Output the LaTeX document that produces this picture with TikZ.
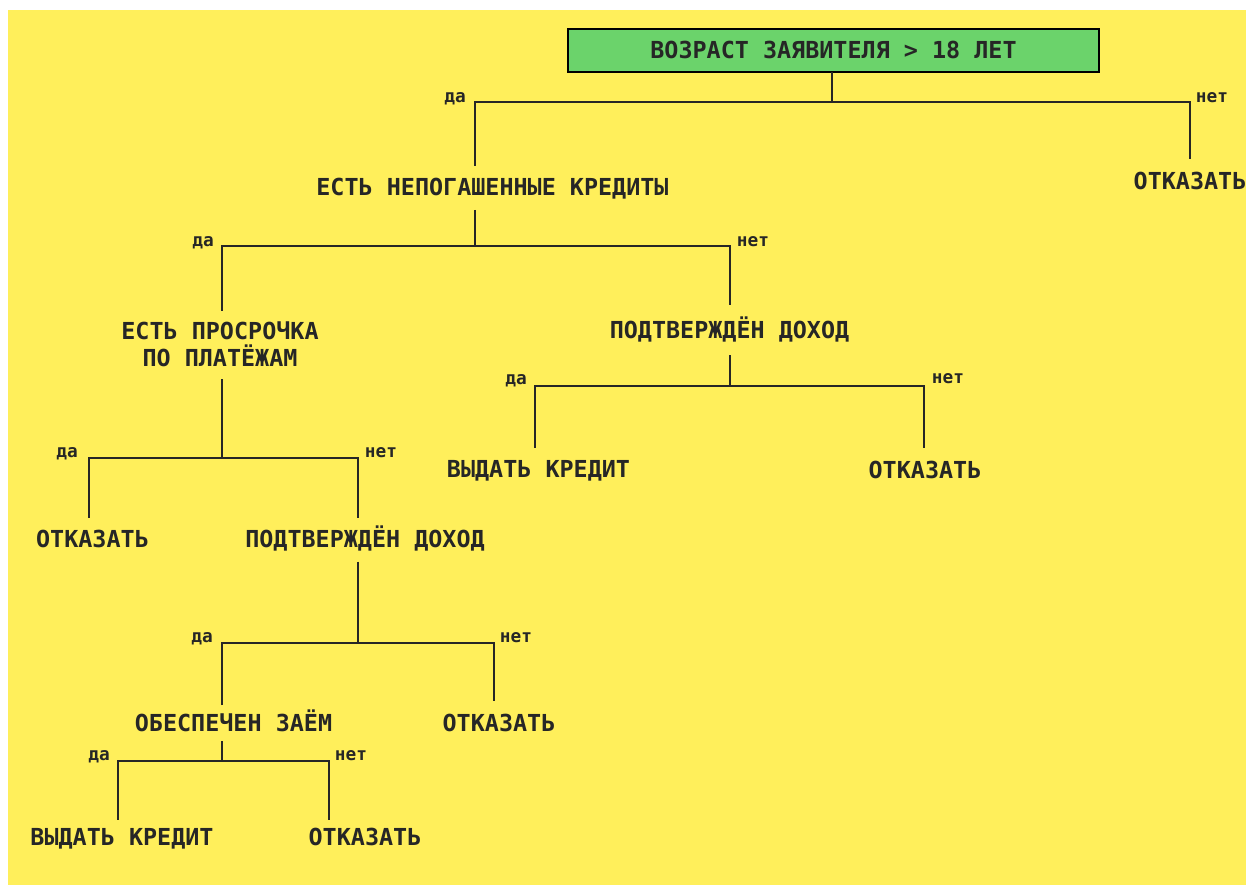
\documentclass[tikz,border=0pt]{standalone}
\usepackage{fontspec}
\setmonofont{DejaVu Sans Mono}

\definecolor{fondo}{HTML}{FFEF5B}
\definecolor{verde}{HTML}{6BD36B}
\definecolor{lineas}{HTML}{262626}

\tikzset{
  texto/.style={font=\ttfamily\bfseries\fontsize{23.4}{26.5}\selectfont, text=lineas,
    inner sep=0pt, outer ysep=14pt, text height=16pt, text depth=0pt, align=center},
  raiz/.style={texto, draw=black, line width=1.6pt, fill=verde, outer sep=0pt,
    minimum width=531pt, minimum height=43pt},
  rama/.style={font=\ttfamily\bfseries\fontsize{17.8}{20}\selectfont, text=lineas,
    inner sep=0pt, text height=10pt, text depth=0pt},
  linea/.style={draw=lineas, line width=2pt}
}

\begin{document}
\begin{tikzpicture}[x=1pt, y=-1pt]
		% Fondo
		\useasboundingbox (0,0) rectangle (1246,885);
		\fill[white] (0,0) rectangle (1246,885);
		\fill[fondo] (8,10) rectangle (1246,885);
		
		% Nodos
		\node[raiz] (n0) at (833.5,50.5) {ВОЗРАСТ ЗАЯВИТЕЛЯ > 18 ЛЕТ};
		\node[texto] (n1) at (492.5,188) {ЕСТЬ НЕПОГАШЕННЫЕ КРЕДИТЫ};
		\node[texto] (r1) at (1190,181.5) {ОТКАЗАТЬ};
		\node[texto, outer ysep=13pt, text height=42.5pt] (n2) at (220,344.75) {ЕСТЬ ПРОСРОЧКА\\ПО ПЛАТЁЖАМ};
		\node[texto, outer ysep=17pt] (n3) at (729.5,330) {ПОДТВЕРЖДЁН ДОХОД};
		\node[texto] (n4) at (538.5,469.5) {ВЫДАТЬ КРЕДИТ};
		\node[texto] (n5) at (925,470) {ОТКАЗАТЬ};
		\node[texto] (n6) at (92.5,539.5) {ОТКАЗАТЬ};
		\node[texto] (n7) at (365,539.5) {ПОДТВЕРЖДЁН ДОХОД};
		\node[texto, outer ysep=10pt] (n8) at (233.5,723) {ОБЕСПЕЧЕН ЗАЁМ};
		\node[texto] (n9) at (499,723) {ОТКАЗАТЬ};
		\node[texto, outer ysep=10pt] (n10) at (122,837.5) {ВЫДАТЬ КРЕДИТ};
		\node[texto, outer ysep=10pt] (n11) at (365,837.5) {ОТКАЗАТЬ};
		
		% Barras
		\coordinate (b0a) at (475,102);  \coordinate (b0b) at (1190,102); \coordinate (p0) at (832,102);
		\coordinate (b1a) at (222,246);  \coordinate (b1b) at (730,246);  \coordinate (p1) at (475,246);
		\coordinate (b2a) at (89,457.5); \coordinate (b2b) at (358,457.5); \coordinate (p2) at (222,457.5);
		\coordinate (b3a) at (535,386);  \coordinate (b3b) at (924,386);  \coordinate (p3) at (730,386);
		\coordinate (b4a) at (222,643);  \coordinate (b4b) at (494,643);  \coordinate (p4) at (358,643);
		\coordinate (b5a) at (118,761);  \coordinate (b5b) at (329,761);  \coordinate (p5) at (222,761);
		
		% Conectores
		\draw[linea] (n0.south -| p0) -- (p0);
		\draw[linea] (n1.north -| b0a) -- (b0a) -- (b0b) -- (r1.north -| b0b);
		\draw[linea] (n1.south -| p1) -- (p1);
		\draw[linea] (n2.north -| b1a) -- (b1a) -- (b1b) -- (n3.north -| b1b);
		\draw[linea] (n2.south -| p2) -- (p2);
		\draw[linea] (n6.north -| b2a) -- (b2a) -- (b2b) -- (n7.north -| b2b);
		\draw[linea] (n3.south -| p3) -- (p3);
		\draw[linea] (n4.north -| b3a) -- (b3a) -- (b3b) -- (n5.north -| b3b);
		\draw[linea] (n7.south -| p4) -- (p4);
		\draw[linea] (n8.north -| b4a) -- (b4a) -- (b4b) -- (n9.north -| b4b);
		\draw[linea] (n8.south -| p5) -- (p5);
		\draw[linea] (n10.north -| b5a) -- (b5a) -- (b5b) -- (n11.north -| b5b);
		
		% Etiquetas
		\node[rama] (s0) at (455,98) {да};   \node[rama] (t0) at (1212,98) {нет};
		\node[rama] (s1) at (203,241) {да};  \node[rama] (t1) at (753,241) {нет};
		\node[rama] (s2) at (67,452) {да};   \node[rama] (t2) at (381,452) {нет};
		\node[rama] (s3) at (516,379) {да};  \node[rama] (t3) at (948,378) {нет};
		\node[rama] (s4) at (202,637) {да};  \node[rama] (t4) at (516,637) {нет};
		\node[rama] (s5) at (99,755) {да};   \node[rama] (t5) at (351,755) {нет};
	\end{tikzpicture}
\end{document}
